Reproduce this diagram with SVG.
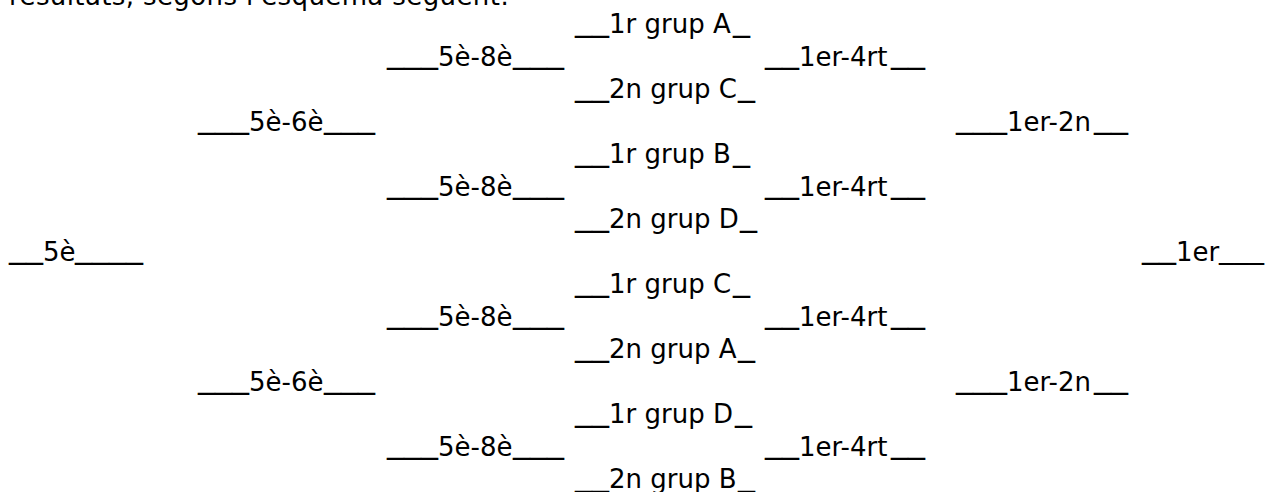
<svg xmlns="http://www.w3.org/2000/svg" width="1265" height="492" viewBox="0 0 1265 492">
<style>
text{font-family:Verdana,"DejaVu Sans",sans-serif;font-size:26px;fill:#000}
.u{font-size:34px}
.ue{font-size:30px}
</style>
<rect width="1265" height="492" fill="#fff"/>
<g id="intro"><text x="9" y="5" textLength="500" lengthAdjust="spacing">resultats, segons l'esquema següent:</text></g>
<g id="r0"><text><tspan class="u" x="575" y="29.7">__</tspan><tspan x="609" y="33.2">1r grup A</tspan><tspan class="u" x="733" y="29.7">_</tspan></text></g>
<g id="q1"><text><tspan class="u" x="387" y="62.2">___</tspan><tspan x="438" y="65.7">5è-8è</tspan><tspan class="u" x="513" y="62.2">___</tspan></text></g>
<g id="s1"><text><tspan class="u" x="765" y="62.2">__</tspan><tspan x="799" y="65.7">1er-4rt</tspan><tspan class="u" x="891" y="62.2">__</tspan></text></g>
<g id="r2"><text><tspan class="u" x="575" y="94.7">__</tspan><tspan x="609" y="98.2">2n grup C</tspan><tspan class="u" x="738" y="94.7">_</tspan></text></g>
<g id="p3"><text><tspan class="u" x="198" y="127.2">___</tspan><tspan x="249" y="130.7">5è-6è</tspan><tspan class="u" x="324" y="127.2">___</tspan></text></g>
<g id="f3"><text><tspan class="u" x="956" y="127.2">___</tspan><tspan x="1007" y="130.7">1er-2n</tspan><tspan class="u" x="1094" y="127.2">__</tspan></text></g>
<g id="r4"><text><tspan class="u" x="575" y="159.7">__</tspan><tspan x="609" y="163.2">1r grup B</tspan><tspan class="u" x="733" y="159.7">_</tspan></text></g>
<g id="q5"><text><tspan class="u" x="387" y="192.2">___</tspan><tspan x="438" y="195.7">5è-8è</tspan><tspan class="u" x="513" y="192.2">___</tspan></text></g>
<g id="s5"><text><tspan class="u" x="765" y="192.2">__</tspan><tspan x="799" y="195.7">1er-4rt</tspan><tspan class="u" x="891" y="192.2">__</tspan></text></g>
<g id="r6"><text><tspan class="u" x="575" y="224.7">__</tspan><tspan x="609" y="228.2">2n grup D</tspan><tspan class="u" x="740" y="224.7">_</tspan></text></g>
<g id="fifth"><text><tspan class="u" x="9" y="257.2">__</tspan><tspan x="43" y="260.7">5è</tspan><tspan class="u" x="75" y="257.2">____</tspan></text></g>
<g id="first"><text><tspan class="u" x="1142" y="257.2">__</tspan><tspan x="1176" y="260.7">1er</tspan><tspan class="ue" x="1219" y="257.9">___</tspan></text></g>
<g id="r8"><text><tspan class="u" x="575" y="289.7">__</tspan><tspan x="609" y="293.2">1r grup C</tspan><tspan class="u" x="733" y="289.7">_</tspan></text></g>
<g id="q9"><text><tspan class="u" x="387" y="322.2">___</tspan><tspan x="438" y="325.7">5è-8è</tspan><tspan class="u" x="513" y="322.2">___</tspan></text></g>
<g id="s9"><text><tspan class="u" x="765" y="322.2">__</tspan><tspan x="799" y="325.7">1er-4rt</tspan><tspan class="u" x="891" y="322.2">__</tspan></text></g>
<g id="r10"><text><tspan class="u" x="575" y="354.7">__</tspan><tspan x="609" y="358.2">2n grup A</tspan><tspan class="u" x="738" y="354.7">_</tspan></text></g>
<g id="p11"><text><tspan class="u" x="198" y="387.2">___</tspan><tspan x="249" y="390.7">5è-6è</tspan><tspan class="u" x="324" y="387.2">___</tspan></text></g>
<g id="f11"><text><tspan class="u" x="956" y="387.2">___</tspan><tspan x="1007" y="390.7">1er-2n</tspan><tspan class="u" x="1094" y="387.2">__</tspan></text></g>
<g id="r12"><text><tspan class="u" x="575" y="419.7">__</tspan><tspan x="609" y="423.2">1r grup D</tspan><tspan class="u" x="735" y="419.7">_</tspan></text></g>
<g id="q13"><text><tspan class="u" x="387" y="452.2">___</tspan><tspan x="438" y="455.7">5è-8è</tspan><tspan class="u" x="513" y="452.2">___</tspan></text></g>
<g id="s13"><text><tspan class="u" x="765" y="452.2">__</tspan><tspan x="799" y="455.7">1er-4rt</tspan><tspan class="u" x="891" y="452.2">__</tspan></text></g>
<g id="r14"><text><tspan class="u" x="575" y="484.7">__</tspan><tspan x="609" y="488.2">2n grup B</tspan><tspan class="u" x="738" y="484.7">_</tspan></text></g>
</svg>
